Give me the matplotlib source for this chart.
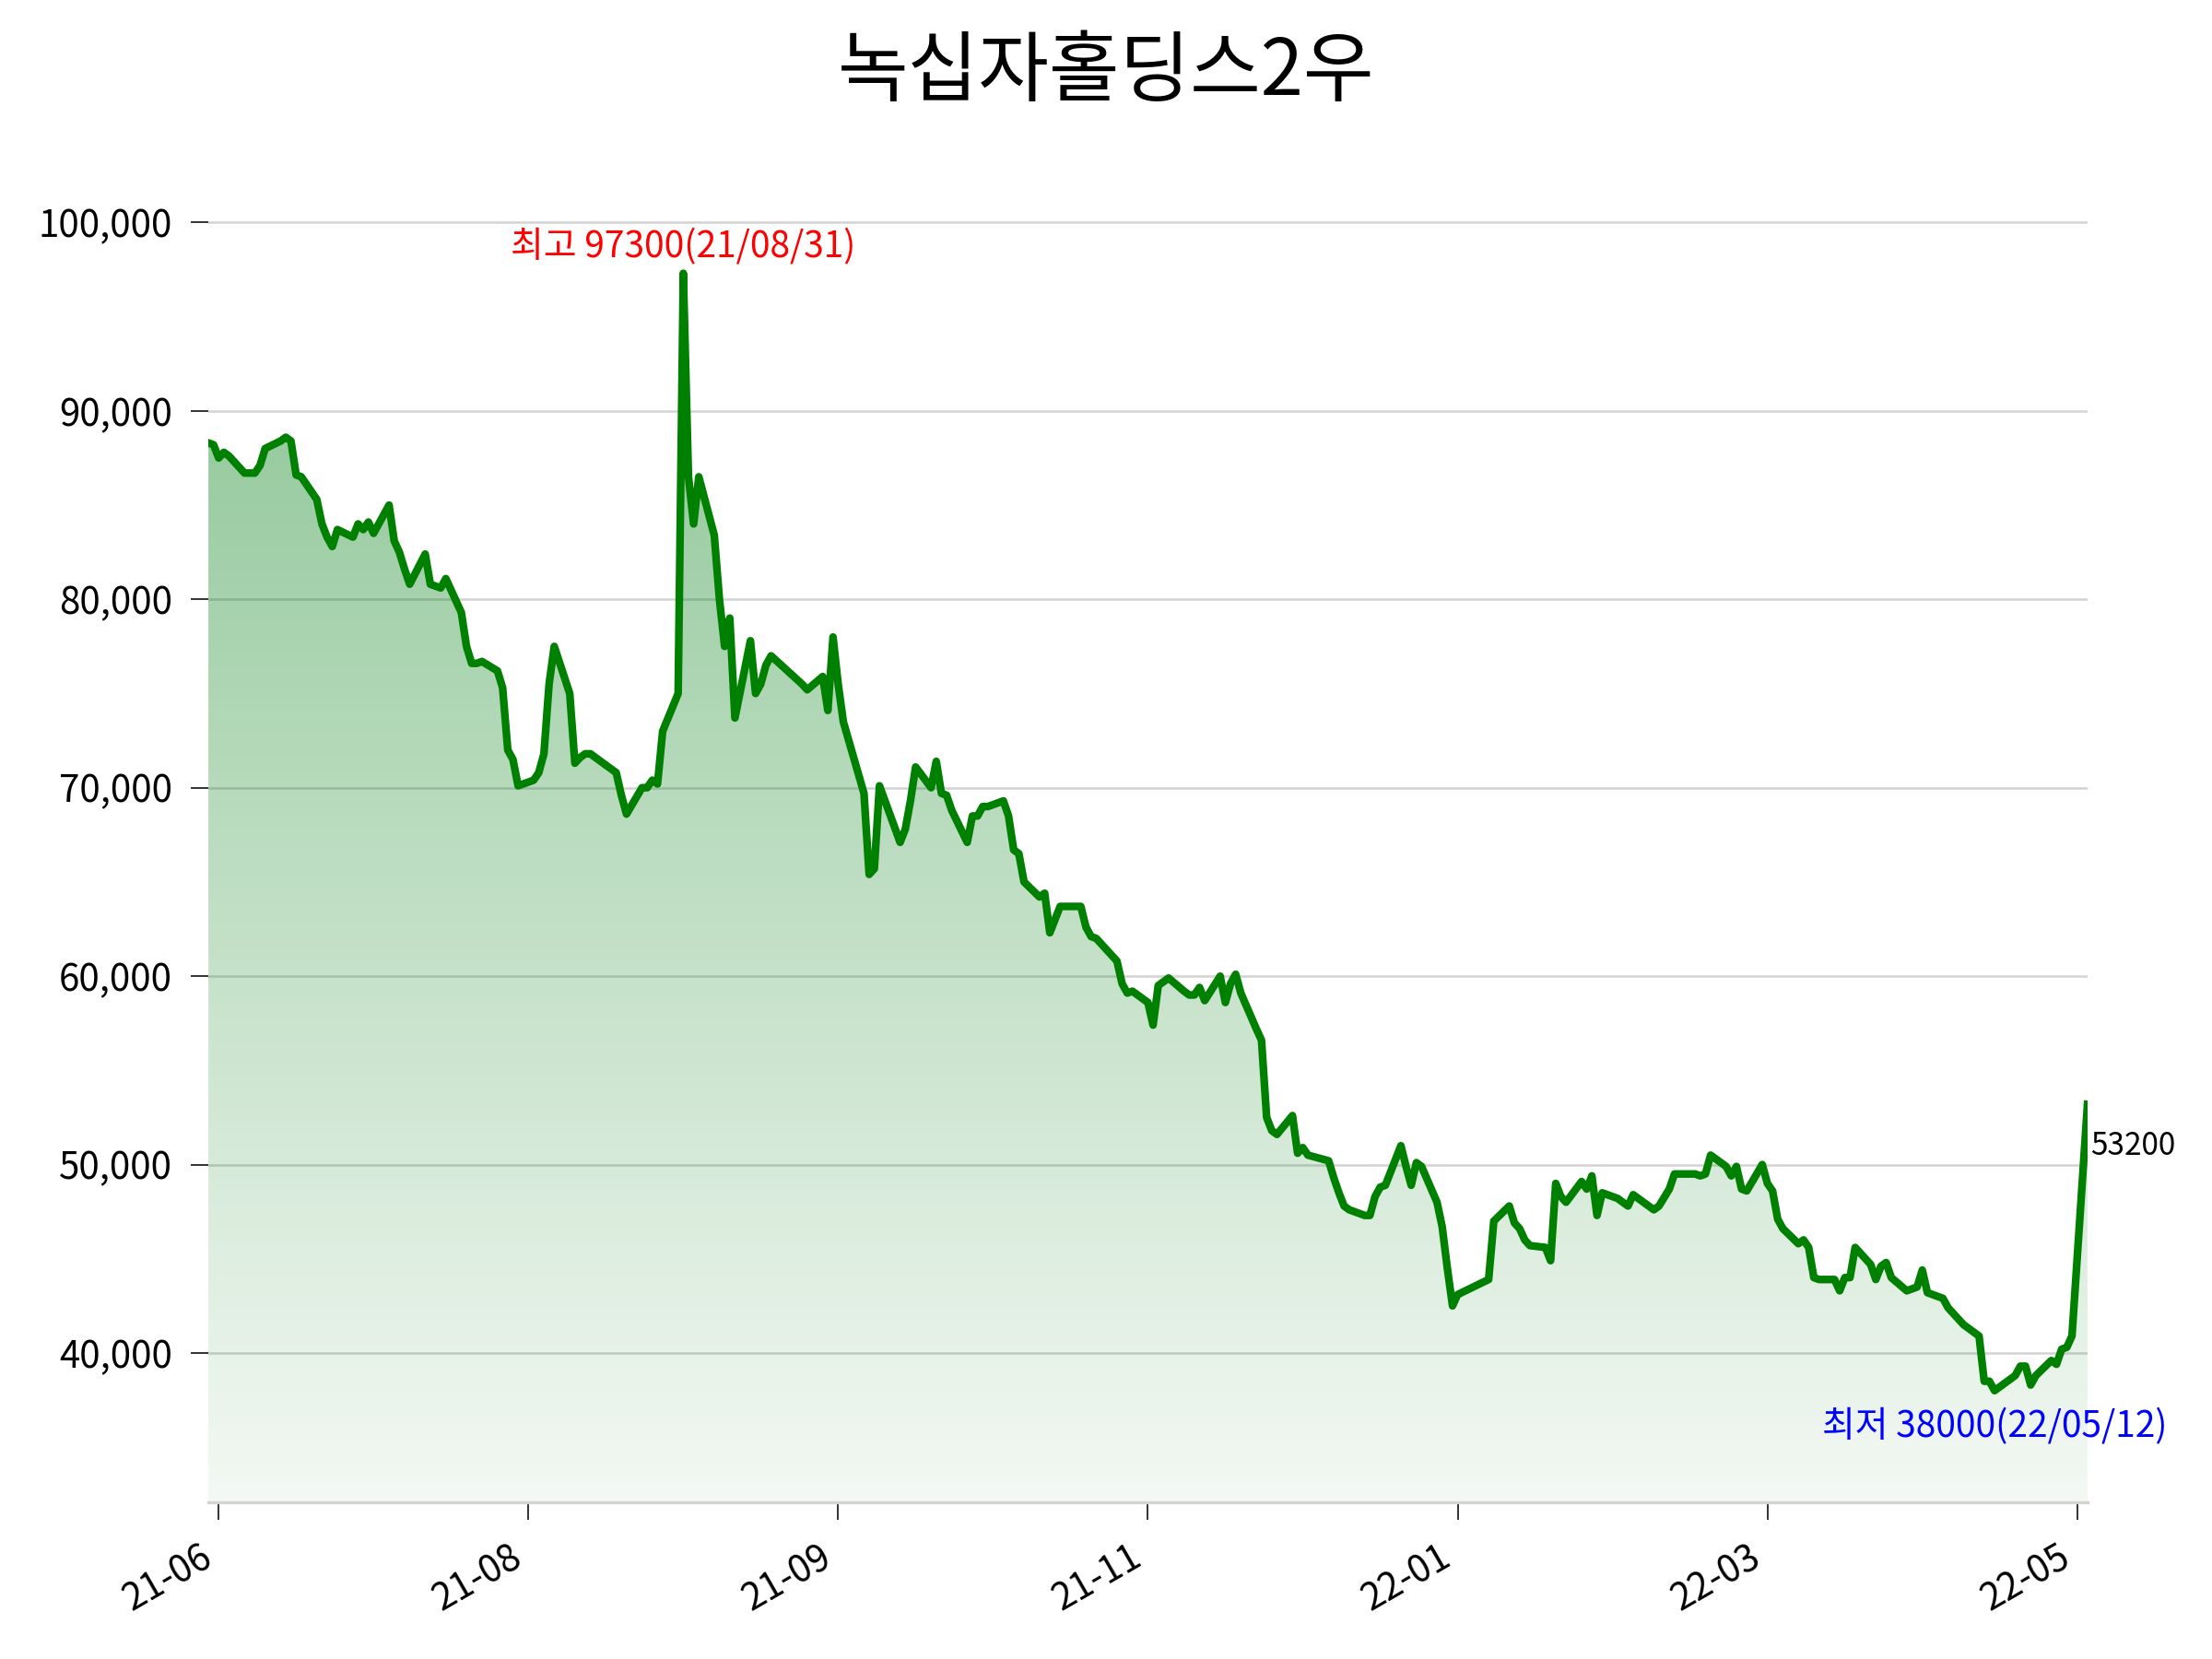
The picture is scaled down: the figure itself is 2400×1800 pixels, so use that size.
import numpy as np
import pandas as pd
import matplotlib
matplotlib.use("Agg")
import matplotlib.pyplot as plt
import matplotlib.dates as mdates
from matplotlib.patches import Polygon
from matplotlib.ticker import FuncFormatter, MultipleLocator

plt.rcParams['font.family'] = ['Noto Sans CJK KR', 'DejaVu Sans']

title = '녹십자홀딩스2우'

# trading days: weekdays between these dates minus KRX holidays
start_date = '2021-05-31'
end_date = '2022-05-30'
krx_holidays = ['2021-08-16', '2021-09-20', '2021-09-21', '2021-09-22',
                '2021-10-04', '2021-10-11', '2021-12-31', '2022-01-31',
                '2022-02-01', '2022-02-02', '2022-03-01', '2022-03-09',
                '2022-05-05']

# daily close, one row per week
close = [
    88300, 88200, 87500, 87800, 87600,
    86700, 86700, 86700, 87100, 88000,
    88400, 88600, 88400, 86600, 86500,
    85300, 84000, 83300, 82800, 83700,
    83300, 84000, 83700, 84100, 83500,
    85000, 83100, 82500, 81600, 80800,
    82400, 80800, 80700, 80600, 81100,
    79300, 77500, 76600, 76600, 76700,
    76200, 75300, 72000, 71500, 70100,
    70400, 70800, 71800, 75500, 77500,
    75000, 71300, 71600, 71800, 71800,
    71000, 70800, 69600, 68600,
    70000, 70000, 70400, 70200, 73000,
    75000, 97300, 86500, 84000, 86500,
    83400, 80000, 77500, 79000, 73700,
    77800, 75000, 75500, 76500, 77000,
    75500, 75200,
    75900, 74100, 78000, 75500, 73500,
    69700, 65400, 65700, 70100,
    67100, 67800, 69300, 71100,
    70000, 71400, 69700, 69600, 68800,
    67100, 68500, 68500, 69000, 69000,
    69300, 68500, 66700, 66500, 65000,
    64200, 64400, 62300, 63000, 63700,
    63700, 63700, 62600, 62100, 62000,
    61100, 60800, 59600, 59100, 59200,
    58600, 57400, 59500, 59700, 59900,
    59200, 59000, 59000, 59400, 58700,
    60000, 58600, 59600, 60100, 59100,
    57200, 56600, 52500, 51800, 51600,
    52600, 50600, 50900, 50500,
    50200, 49300, 48500, 47800, 47600,
    47300, 47300, 48300, 48800, 48900,
    51000, 49900, 48900, 50100, 49900,
    48000, 46700, 44500, 42500, 43100,
    43900, 47000,
    47800, 46900, 46600, 46000, 45700,
    45600, 44900, 49000, 48300, 48000,
    49100, 48700, 49400, 47300, 48500,
    48200, 47800, 48400, 48200,
    47600, 47800, 48700, 49500,
    49500, 49500, 49400, 49500, 50500,
    49900, 49400, 49900, 48700, 48600,
    50000, 49000, 48600, 47100, 46600,
    45800, 46000, 45600, 44000, 43900,
    43900, 43300, 44000, 44000, 45600,
    44700, 43900, 44600, 44800, 44000,
    43300, 43400, 43500, 44400, 43200,
    42900, 42400, 42100, 41500,
    40900, 38500, 38500, 38000, 38200,
    38800, 39300, 39300, 38300, 38800,
    39600, 39400, 40200, 40300, 40900,
    53200,
]

# x ticks every 60 days
tick_start = '2021-06-02'
tick_count = 7


def trading_days():
    days = pd.bdate_range(start_date, end_date)
    return days[~days.isin(pd.to_datetime(krx_holidays))]


def gradient_fill(ax, x, y, ybottom):
    # vertical green gradient, clipped to the area under the line
    grad = np.zeros((256, 1, 4))
    grad[:, :, :3] = (0.0, 0.5, 0.08)
    grad[:, :, 3] = np.linspace(0.05, 0.46, 256)[:, None]
    im = ax.imshow(grad, aspect='auto', origin='lower', zorder=1,
                   extent=[x[0], x[-1], ybottom, y.max()])
    verts = np.vstack([[x[0], ybottom], np.column_stack([x, y]),
                       [x[-1], ybottom]])
    clip = Polygon(verts, closed=True, facecolor='none', edgecolor='none')
    ax.add_patch(clip)
    im.set_clip_path(clip)


def plot():
    dates = trading_days()
    x = mdates.date2num(dates)
    y = np.array(close, dtype=float)

    fig = plt.figure(figsize=(12, 9), dpi=200)
    ax = fig.add_axes([0.0942, 0.0944, 0.8495, 0.8082])

    span = y.max() - y.min()
    ybottom = y.min() - 0.1 * span
    ytop = y.max() + 0.1 * span

    gradient_fill(ax, x, y, ybottom)
    ax.plot(x, y, color='green', lw=3.0, zorder=3)

    ax.set_xlim(x[0], x[-1])
    ax.set_ylim(ybottom, ytop)

    # axis styling
    for side in ['top', 'right', 'left']:
        ax.spines[side].set_visible(False)
    ax.spines['bottom'].set_color('#d3d3d3')
    ax.spines['bottom'].set_linewidth(1.2)
    ax.grid(axis='y', color='#d3d3d3', linewidth=0.9)
    ax.set_axisbelow(True)

    ticks = pd.date_range(tick_start, periods=tick_count, freq='60D')
    ax.set_xticks(mdates.date2num(ticks))
    ax.xaxis.set_major_formatter(mdates.DateFormatter('%y-%m'))
    ax.yaxis.set_major_locator(MultipleLocator(10000))
    ax.yaxis.set_major_formatter(FuncFormatter(lambda v, p: f'{v:,.0f}'))
    ax.tick_params(length=7, width=0.7, pad=7, labelsize=14.5,
                   color='#333333')
    for lab in ax.get_xticklabels():
        lab.set_rotation(30)
        lab.set_ha('right')

    # max / min / last annotations
    imax = int(y.argmax())
    imin = int(y.argmin())
    ax.annotate('최고 {}({})'.format(int(y[imax]),
                                   dates[imax].strftime('%y/%m/%d')),
                xy=(x[imax], y[imax]), xytext=(0, 3),
                textcoords='offset points', ha='center', va='bottom',
                color='red', fontsize=14)
    ax.annotate('최저 {}({})'.format(int(y[imin]),
                                   dates[imin].strftime('%y/%m/%d')),
                xy=(x[imin], y[imin]), xytext=(0, -7),
                textcoords='offset points', ha='center', va='top',
                color='blue', fontsize=14)
    ax.annotate('{}'.format(int(y[-1])), xy=(x[-1], y[-1]),
                xytext=(1, -10), textcoords='offset points',
                ha='left', va='top', color='black', fontsize=12,
                annotation_clip=False)

    fig.suptitle(title, fontsize=30)
    fig.savefig('out.png')


if __name__ == "__main__":
    plot()
